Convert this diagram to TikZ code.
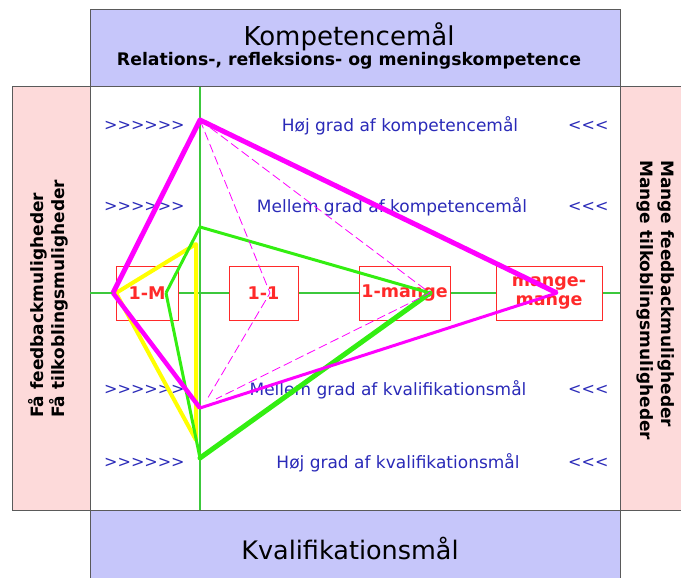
\documentclass[tikz,border=0pt]{standalone}
\usepackage{fontspec}
\setmainfont{DejaVu Sans}[Ligatures=TeXOff]
\usepackage{tikz}

\definecolor{lavendel}{HTML}{C6C6FA}
\definecolor{lyserod}{HTML}{FDDADA}
\definecolor{rammegraa}{HTML}{5A5A5A}
\definecolor{niveaublaa}{HTML}{2A2AB8}
\definecolor{relrod}{HTML}{FF2A2A}
\definecolor{aksegron}{HTML}{3CC83C}
\definecolor{gron}{HTML}{33EE11}
\definecolor{gul}{HTML}{FFFF00}
\definecolor{magenta2}{HTML}{FF00FF}

\tikzset{
    maalfelt/.style={draw=rammegraa, fill=lavendel, line width=1pt},
    sidefelt/.style={draw=rammegraa, fill=lyserod, line width=1pt},
    relboks/.style={draw=relrod, fill=white, line width=1pt, inner sep=0pt,
        minimum height=54pt, text=relrod, align=center,
        font=\bfseries\fontsize{17.5}{19}\selectfont},
    niveau/.style={text=niveaublaa, inner sep=0pt,
        font=\fontsize{17}{19}\selectfont},
    pile/.style={niveau, anchor=west, font=\fontsize{16}{19}\selectfont},
    sidetekst/.style={align=left, inner sep=0pt,
        font=\bfseries\fontsize{17}{21}\selectfont}
}

\begin{document}
\begin{tikzpicture}[x=1pt, y=-1pt]
    \useasboundingbox (0,0) rectangle (681,578);
    \clip (0,0) rectangle (681,578);

    % Goal fields above and below
    \filldraw[maalfelt] (90,10) rectangle (620,87);
    \filldraw[maalfelt] (90,510) rectangle (620,600);
    \node[font=\fontsize{26}{28}\selectfont] (komp) at (349,37) {Kompetencemål};
    \node[font=\bfseries\fontsize{17.3}{19}\selectfont] (rel) at (349,61)
        {Relations-, refleksions- og meningskompetence};
    \node[font=\fontsize{25.5}{28}\selectfont] (kval) at (350,548) {Kvalifikationsmål};

    % Side fields left and right
    \filldraw[sidefelt] (12,87) rectangle (90,510);
    \filldraw[sidefelt] (620,87) rectangle (700,510);
    \node[sidetekst, rotate=90, anchor=west] (faa) at (48,418)
        {Få feedbackmuligheder\\Få tilkoblingsmuligheder};
    \node[sidetekst, rotate=-90, anchor=west] (mange) at (656,160)
        {Mange feedbackmuligheder\\Mange tilkoblingsmuligheder};

    % Axes
    \draw[aksegron, line width=1.2pt] (200,87) -- (200,510);
    \draw[aksegron, line width=1.2pt] (90,293) -- (620,293);

    % Relation boxes on the axis
    \node[relboks, minimum width=62pt] (enM) at (147,293) {1-M};
    \node[relboks, minimum width=69pt] (enEn) at (263.5,293) {1-1};
    \node[relboks, minimum width=91pt] (enMange) at (404.5,293) {1-mange};
    \node[relboks, minimum width=106pt] (mangeMange) at (549,293) {mange-\\mange};

    % Level rows
    \foreach \y/\tekst/\cx in {126/Høj grad af kompetencemål/400,
                               207/Mellem grad af kompetencemål/392,
                               390/Mellem grad af kvalifikationsmål/388,
                               463/Høj grad af kvalifikationsmål/398} {
        \node[pile] (ind\y) at (104,\y) {>>>>>>};
        \node[niveau] (niv\y) at (\cx,\y) {\tekst};
        \node[pile] (ud\y) at (568,\y) {<<<};
    }

    % Corner points of the profiles
    \coordinate (kTop) at (200,120);
    \coordinate (mmSpids) at (557,293);
    \coordinate (kvMidt) at (200,408);
    \coordinate (omSpids) at (113,293);
    \coordinate (gTop) at (200,227);
    \coordinate (emSpids) at (430,293);
    \coordinate (gBund) at (200,458);
    \coordinate (gVenstre) at (166,293);
    \coordinate (yTop) at (196,244);
    \coordinate (yVenstre) at (116,293);
    \coordinate (yBund) at (196,440);
    \coordinate (eeSpids) at (270,293);
    \coordinate (dSlut1) at (206,401);
    \coordinate (dSlut2) at (216,399);

    % Yellow profile
    \draw[gul, line width=4pt, line join=round] (yTop) -- (yVenstre) -- (yBund) -- cycle;

    % Green profile
    \draw[gron, line width=3pt, line join=round] (gVenstre) -- (gTop) -- (emSpids);
    \draw[gron, line width=5pt, line cap=round] (emSpids) -- (gBund);
    \draw[gron, line width=3pt, line join=round] (gBund) -- (gVenstre);

    % Magenta profile
    \draw[magenta2, line width=5pt, line join=round] (omSpids) -- (kTop) -- (mmSpids);
    \draw[magenta2, line width=3pt, line cap=round] (mmSpids) -- (kvMidt);
    \draw[magenta2, line width=4.5pt, line join=round] (kvMidt) -- (omSpids);

    % Thin dashed magenta lines
    \draw[magenta2, line width=0.8pt, dash pattern=on 9pt off 4pt] (kTop) -- (eeSpids) -- (dSlut1);
    \draw[magenta2, line width=0.8pt, dash pattern=on 9pt off 4pt] (kTop) -- (emSpids) -- (dSlut2);
\end{tikzpicture}
\end{document}
